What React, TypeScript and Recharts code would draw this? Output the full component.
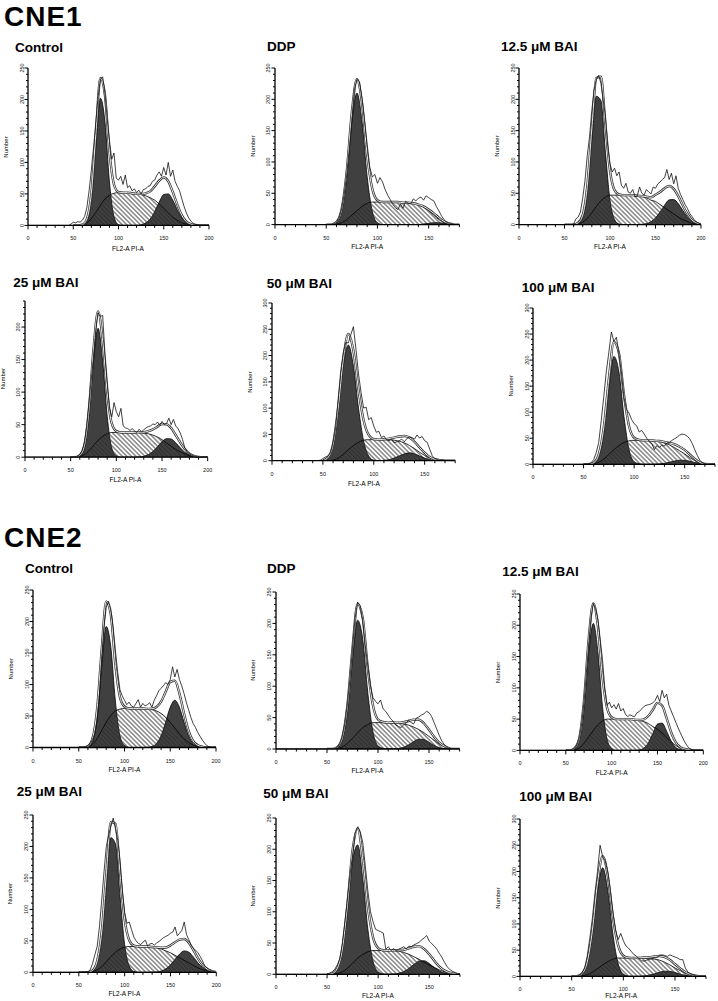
import React from 'react';
import { ComposedChart, Area, Line, XAxis, YAxis } from 'recharts';

// x positions of the model components (step 5) and of the raw histogram (step 2.5, plus the 0 anchor)
const COMP_X = [50, 55, 60, 65, 70, 75, 80, 85, 90, 95, 100, 105, 110, 115, 120, 125, 130, 135, 140, 145, 150, 155, 160, 165, 170, 175, 180, 185, 190, 195, 200];
const RAW_X = [
  0, 45, 47.5, 50, 52.5, 55, 57.5,
  60, 62.5, 65, 67.5, 70, 72.5, 75, 77.5,
  80, 82.5, 85, 87.5, 90, 92.5, 95, 97.5,
  100, 102.5, 105, 107.5, 110, 112.5, 115, 117.5,
  120, 122.5, 125, 127.5, 130, 132.5, 135, 137.5,
  140, 142.5, 145, 147.5, 150, 152.5, 155, 157.5,
  160, 162.5, 165, 167.5, 170, 172.5, 175, 177.5,
  180, 182.5, 185, 187.5, 190, 192.5, 195, 197.5,
  200,
];

// ---- CNE1 ----
const cne1CtrlG1 = [0, 0, 0, 6, 40, 125, 202, 165, 69, 14, 1, 0, 0, 0, 0, 0, 0, 0, 0, 0, 0, 0, 0, 0, 0, 0, 0, 0, 0, 0, 0];
const cne1CtrlS = [0, 0, 1, 4, 11, 21, 32, 42, 48, 51, 52, 52, 52, 51, 50, 49, 47, 44, 40, 34, 27, 20, 13, 8, 4, 2, 1, 0, 0, 0, 0];
const cne1CtrlG2 = [0, 0, 0, 0, 0, 0, 0, 0, 0, 0, 0, 0, 0, 0, 0, 1, 4, 10, 22, 37, 49, 50, 40, 25, 12, 4, 1, 0, 0, 0, 0];
const cne1CtrlRaw = [
  0, 0, 2, 5, 4, 6, 5,
  8, 14, 28, 55, 88, 125, 165, 205,
  232, 236, 210, 170, 135, 105, 115, 75,
  72, 78, 65, 80, 60, 63, 55, 58,
  52, 56, 50, 57, 58, 62, 63, 70,
  72, 80, 85, 78, 92, 80, 100, 78,
  88, 70, 62, 55, 42, 30, 20, 12,
  7, 3, 2, 1, 0, 0, 0, 0,
  0,
];

const cne1DdpG1 = [0, 0, 3, 21, 76, 164, 210, 164, 76, 21, 3, 0, 0, 0, 0, 0, 0, 0, 0, 0, 0, 0, 0, 0, 0, 0, 0, 0, 0, 0, 0];
const cne1DdpS = [0, 0, 1, 3, 8, 15, 22, 29, 34, 36, 36, 36, 36, 36, 36, 35, 35, 34, 32, 28, 22, 15, 8, 3, 1, 0, 0, 0, 0, 0, 0];
const cne1DdpG2 = [0, 0, 0, 0, 0, 0, 0, 0, 0, 0, 0, 0, 0, 0, 0, 0, 0, 0, 0, 1, 2, 3, 3, 2, 1, 0, 0, 0, 0, 0, 0];
const cne1DdpRaw = [
  0, 0, 0, 0, 0, 0, 1,
  3, 10, 25, 48, 80, 120, 165, 215,
  232, 228, 200, 165, 128, 92, 76, 80,
  66, 75, 68, 56, 47, 40, 32, 27,
  24, 33, 26, 37, 34, 33, 41, 38,
  42, 44, 39, 46, 43, 40, 38, 29,
  22, 14, 8, 4, 2, 1, 0, 0,
  0, 0, 0, 0, 0, 0, 0, 0,
  0,
];

const cne1B12G1 = [0, 0, 0, 2, 11, 51, 134, 205, 198, 115, 39, 8, 1, 0, 0, 0, 0, 0, 0, 0, 0, 0, 0, 0, 0, 0, 0, 0, 0, 0, 0];
const cne1B12S = [0, 0, 0, 1, 4, 10, 19, 29, 38, 44, 47, 47, 47, 47, 47, 47, 46, 45, 43, 39, 37, 32, 27, 22, 17, 12, 8, 5, 2, 1, 0];
const cne1B12G2 = [0, 0, 0, 0, 0, 0, 0, 0, 0, 0, 0, 0, 0, 0, 0, 0, 0, 0.5, 1.6, 4.6, 10.7, 20, 31, 39.5, 40, 33.5, 22.6, 12.4, 5.5, 2, 0.6];
const cne1B12Raw = [
  0, 0, 0, 0, 0, 0, 0,
  1, 9, 12, 20, 42, 70, 110, 140,
  182, 215, 232, 238, 226, 200, 172, 125,
  97, 84, 90, 78, 84, 63, 58, 66,
  52, 50, 56, 45, 46, 60, 50, 47,
  56, 52, 49, 60, 58, 65, 68, 72,
  75, 88, 72, 82, 65, 78, 58, 48,
  40, 32, 26, 18, 13, 8, 4, 2,
  1,
];

const cne1B25G1 = [0, 0, 2, 14, 63, 148, 198, 148, 63, 14, 2, 0, 0, 0, 0, 0, 0, 0, 0, 0, 0, 0, 0, 0, 0, 0, 0, 0, 0, 0, 0];
const cne1B25S = [0, 0, 1, 4, 10, 18, 26, 32, 36, 38, 38, 38, 38, 38, 38, 38, 37, 36, 34, 31, 27, 22, 17, 12, 8, 5, 2, 1, 0, 0, 0];
const cne1B25G2 = [0, 0, 0, 0, 0, 0, 0, 0, 0, 0, 0, 0, 0, 0, 0, 0.4, 1.4, 4, 8.8, 16, 24, 28.5, 28, 22, 14.5, 7.5, 3.3, 1.1, 0.3, 0, 0];
const cne1B25Raw = [
  0, 0, 0, 0, 0, 0, 1,
  4, 10, 22, 46, 82, 120, 153, 195,
  222, 216, 218, 160, 118, 75, 62, 84,
  70, 62, 75, 48, 45, 44, 41, 44,
  40, 38, 43, 39, 42, 45, 47, 48,
  51, 50, 54, 49, 55, 50, 52, 60,
  50, 58, 48, 44, 37, 27, 14, 9,
  5, 3, 2, 1, 0, 0, 0, 0,
  0,
];

const cne1B50G1 = [0, 6, 30, 95, 180, 220, 180, 100, 38, 9, 1, 0, 0, 0, 0, 0, 0, 0, 0, 0, 0, 0, 0, 0, 0, 0, 0, 0, 0, 0, 0];
const cne1B50S = [0, 0, 1, 5, 12, 21, 29, 35, 39, 40, 40, 40, 40, 40, 39, 37, 34, 29, 23, 16, 10, 5, 2, 1, 0, 0, 0, 0, 0, 0, 0];
const cne1B50G2 = [0, 0, 0, 0, 0, 0, 0, 0, 0, 0, 0, 0.1, 0.7, 2, 5, 9, 13, 15, 13, 9, 5, 2, 0.7, 0.1, 0, 0, 0, 0, 0, 0, 0];
const cne1B50Raw = [
  0, 0, 1, 4, 7, 9, 15,
  35, 62, 116, 170, 205, 225, 224, 240,
  255, 212, 165, 130, 100, 102, 78, 82,
  66, 54, 56, 44, 47, 40, 38, 41,
  34, 36, 38, 41, 36, 42, 45, 44,
  41, 49, 43, 46, 38, 35, 22, 9,
  4, 2, 1, 0, 0, 0, 0, 0,
  0, 0, 0, 0, 0, 0, 0, 0,
  0,
];

const cne1B100G1 = [0, 0, 2, 15, 61, 145, 207, 177, 91, 28, 5, 1, 0, 0, 0, 0, 0, 0, 0, 0, 0, 0, 0, 0, 0, 0, 0, 0, 0, 0, 0];
const cne1B100S = [0, 0, 1, 4, 10, 19, 28, 36, 42, 45, 46, 46, 46, 46, 45, 44, 41, 37, 32, 26, 20, 13, 7, 2, 0, 0, 0, 0, 0, 0, 0];
const cne1B100G2 = [0, 0, 0, 0, 0, 0, 0, 0, 0, 0, 0, 0, 0, 0, 0.2, 0.7, 1.9, 3.9, 6.3, 7.8, 7.6, 5.8, 3.4, 1.6, 0.6, 0.2, 0, 0, 0, 0, 0];
const cne1B100Raw = [
  0, 0, 0, 0, 0, 1, 3,
  9, 22, 42, 84, 130, 178, 215, 254,
  236, 244, 212, 175, 128, 105, 98, 86,
  78, 74, 62, 65, 58, 50, 44, 40,
  28, 36, 32, 37, 35, 41, 42, 46,
  49, 52, 56, 58, 57, 54, 49, 40,
  28, 17, 8, 3, 1, 0, 0, 0,
  0, 0, 0, 0, 0, 0, 0, 0,
  0,
];

// ---- CNE2 ----
const cne2CtrlG1 = [0, 0, 1, 9, 46, 127, 192, 160, 74, 19, 3, 0, 0, 0, 0, 0, 0, 0, 0, 0, 0, 0, 0, 0, 0, 0, 0, 0, 0, 0, 0];
const cne2CtrlS = [0, 0, 1, 5, 14, 27, 40, 51, 58, 61, 62, 62, 62, 62, 62, 61, 60, 58, 54, 48, 40, 31, 22, 14, 8, 4, 2, 1, 0, 0, 0];
const cne2CtrlG2 = [0, 0, 0, 0, 0, 0, 0, 0, 0, 0, 0, 0, 0, 0, 0, 0.3, 1.6, 6.4, 18.7, 40.5, 64, 75, 64, 40.5, 18.7, 6.4, 1.6, 0.3, 0, 0, 0];
const cne2CtrlRaw = [
  0, 0, 0, 0, 0, 0, 1,
  3, 6, 12, 22, 42, 80, 140, 190,
  222, 232, 220, 192, 155, 120, 92, 82,
  75, 68, 72, 66, 64, 70, 76, 64,
  70, 66, 68, 71, 64, 75, 82, 90,
  94, 98, 103, 100, 108, 128, 112, 124,
  108, 98, 86, 72, 60, 48, 38, 32,
  24, 18, 12, 7, 3, 1, 0, 0,
  0,
];

const cne2DdpG1 = [0, 0, 2, 15, 60, 143, 205, 175, 90, 28, 5, 1, 0, 0, 0, 0, 0, 0, 0, 0, 0, 0, 0, 0, 0, 0, 0, 0, 0, 0, 0];
const cne2DdpS = [0, 0, 1, 3, 9, 17, 26, 34, 39, 42, 42, 42, 42, 42, 41, 40, 38, 35, 31, 26, 20, 14, 8, 4, 1, 0, 0, 0, 0, 0, 0];
const cne2DdpG2 = [0, 0, 0, 0, 0, 0, 0, 0, 0, 0, 0, 0, 0, 0.2, 0.8, 2.7, 6.6, 11.8, 15.6, 15, 10.8, 5.6, 2.2, 0.6, 0.1, 0, 0, 0, 0, 0, 0];
const cne2DdpRaw = [
  0, 0, 0, 0, 0, 0, 0,
  3, 8, 20, 40, 72, 112, 160, 208,
  234, 228, 205, 165, 132, 102, 82, 76,
  72, 78, 64, 60, 54, 48, 44, 38,
  36, 34, 38, 41, 46, 42, 40, 49,
  51, 54, 56, 60, 58, 52, 42, 32,
  22, 13, 7, 3, 1, 0, 0, 0,
  0, 0, 0, 0, 0, 0, 0, 0,
  0,
];

const cne2B12G1 = [0, 0, 3, 18, 70, 157, 203, 157, 70, 18, 3, 0, 0, 0, 0, 0, 0, 0, 0, 0, 0, 0, 0, 0, 0, 0, 0, 0, 0, 0, 0];
const cne2B12S = [0, 0, 1, 4, 12, 22, 32, 41, 47, 50, 50, 50, 50, 50, 50, 49, 48, 46, 43, 38, 34, 28, 21, 14, 8, 4, 2, 1, 0, 0, 0];
const cne2B12G2 = [0, 0, 0, 0, 0, 0, 0, 0, 0, 0, 0, 0, 0, 0, 0, 0.1, 0.7, 3.6, 12, 27, 42, 43.6, 30.6, 14.6, 4.7, 1, 0.2, 0, 0, 0, 0];
const cne2B12Raw = [
  0, 0, 0, 0, 0, 0, 1,
  4, 10, 22, 45, 80, 125, 170, 212,
  235, 226, 210, 178, 145, 100, 72, 77,
  68, 73, 66, 75, 63, 67, 58, 54,
  57, 55, 54, 60, 62, 66, 70, 72,
  73, 74, 76, 80, 88, 78, 96, 84,
  90, 72, 63, 54, 45, 36, 28, 20,
  13, 7, 3, 1, 0, 0, 0, 0,
  0,
];

const cne2B25G1 = [0, 0, 0, 2, 14, 56, 139, 214, 204, 120, 44, 10, 1.4, 0, 0, 0, 0, 0, 0, 0, 0, 0, 0, 0, 0, 0, 0, 0, 0, 0, 0];
const cne2B25S = [0, 0, 0, 1, 4, 9, 17, 25, 32, 37, 40, 41, 41, 41, 41, 41, 40, 39, 37, 34, 31, 27, 23, 19, 15, 11, 7, 4, 2, 1, 0];
const cne2B25G2 = [0, 0, 0, 0, 0, 0, 0, 0, 0, 0, 0, 0, 0, 0, 0, 0, 0.2, 0.6, 2.1, 5.5, 11.8, 20.6, 29, 34, 32, 24.4, 15, 7.6, 3.2, 1, 0.3];
const cne2B25Raw = [
  0, 0, 0, 0, 0, 0, 0,
  1, 4, 14, 28, 41, 72, 115, 160,
  200, 218, 232, 245, 228, 210, 178, 130,
  95, 78, 80, 68, 56, 50, 46, 44,
  48, 51, 42, 45, 46, 43, 47, 49,
  52, 55, 57, 59, 62, 64, 72, 58,
  62, 67, 80, 60, 52, 43, 38, 35,
  31, 25, 18, 10, 7, 4, 2, 1,
  0,
];

const cne2B50G1 = [0, 1.2, 8.5, 37, 102, 181, 207, 152, 71, 21, 4, 0.5, 0, 0, 0, 0, 0, 0, 0, 0, 0, 0, 0, 0, 0, 0, 0, 0, 0, 0, 0];
const cne2B50S = [0, 0, 1, 4, 10, 18, 26, 32, 36, 38, 38, 38, 38, 38, 37, 35, 32, 28, 24, 19, 15, 11, 7, 4, 2, 1, 0, 0, 0, 0, 0];
const cne2B50G2 = [0, 0, 0, 0, 0, 0, 0, 0, 0, 0, 0, 0, 0, 0.4, 1.6, 4.3, 9.4, 16, 21, 21.6, 17.2, 10.7, 5.2, 2, 0.6, 0.1, 0, 0, 0, 0, 0];
const cne2B50Raw = [
  0, 0, 0, 0, 2, 4, 8,
  15, 25, 50, 85, 122, 160, 190, 226,
  236, 228, 210, 172, 132, 100, 84, 72,
  70, 68, 66, 40, 44, 38, 41, 38,
  40, 42, 44, 41, 45, 44, 47, 49,
  51, 55, 58, 62, 53, 49, 45, 40,
  33, 27, 19, 12, 8, 5, 3, 1,
  0, 0, 0, 0, 0, 0, 0, 0,
  0,
];

const cne2B100G1 = [0, 0.5, 4.4, 24, 79, 163, 207, 163, 79, 24, 4.4, 0.5, 0, 0, 0, 0, 0, 0, 0, 0, 0, 0, 0, 0, 0, 0, 0, 0, 0, 0, 0];
const cne2B100S = [0, 0, 1, 3, 8, 15, 22, 28, 33, 35, 35, 35, 35, 35, 35, 34, 33, 31, 27, 22, 16, 11, 6, 3, 1, 0, 0, 0, 0, 0, 0];
const cne2B100G2 = [0, 0, 0, 0, 0, 0, 0, 0, 0, 0, 0, 0, 0, 0.3, 0.9, 2.4, 4.9, 7.8, 9.8, 9.6, 7.3, 4.3, 2, 0.7, 0.2, 0, 0, 0, 0, 0, 0];
const cne2B100Raw = [
  0, 0, 0, 0, 0, 0, 2,
  7, 16, 38, 72, 110, 158, 200, 250,
  228, 220, 198, 162, 120, 88, 70, 82,
  68, 58, 54, 48, 42, 39, 34, 30,
  29, 31, 32, 34, 35, 36, 40, 41,
  40, 38, 41, 39, 37, 35, 32, 32,
  16, 8, 5, 3, 1, 0, 0, 0,
  0, 0, 0, 0, 0, 0, 0, 0,
  0,
];

const FONT = '"Liberation Sans", Arial, Helvetica, sans-serif';
const ML = 30;
const MT = 6;
const MR = 8;
const MB = 30;

const range = (max: number) => {
  const out: number[] = [];
  for (let v = 0; v <= max; v += 10) out.push(v);
  return out;
};

// layout of each panel: pixel positions of the axes on the page
const PANELS = [
  { title: 'Control', g1: cne1CtrlG1, s: cne1CtrlS, g2: cne1CtrlG2, raw: cne1CtrlRaw, xMax: 200, yMax: 250, x0: 28.3, x1: 209.3, yTop: 68.3, y0: 225.7, tx: 15, ty: 51.5, lv: 110, ly: 25 },
  { title: 'DDP', g1: cne1DdpG1, s: cne1DdpS, g2: cne1DdpG2, raw: cne1DdpRaw, xMax: 180, yMax: 250, x0: 275, x1: 459.4, yTop: 67.7, y0: 224.3, tx: 267, ty: 50.5, lv: 90, ly: 25 },
  { title: '12.5 μM BAI', g1: cne1B12G1, s: cne1B12S, g2: cne1B12G2, raw: cne1B12Raw, xMax: 200, yMax: 250, x0: 519, x1: 701, yTop: 67.7, y0: 224.3, tx: 501, ty: 50.5, lv: 100, ly: 25 },
  { title: '25 μM BAI', g1: cne1B25G1, s: cne1B25S, g2: cne1B25G2, raw: cne1B25Raw, xMax: 200, yMax: 240, x0: 25, x1: 207.7, yTop: 300.5, y0: 456.7, tx: 13.3, ty: 286.5, lv: 110, ly: 25 },
  { title: '50 μM BAI', g1: cne1B50G1, s: cne1B50S, g2: cne1B50G2, raw: cne1B50Raw, xMax: 180, yMax: 300, x0: 272.3, x1: 455.5, yTop: 303.3, y0: 461, tx: 266.7, ty: 288, lv: 90, ly: 25 },
  { title: '100 μM BAI', g1: cne1B100G1, s: cne1B100S, g2: cne1B100G2, raw: cne1B100Raw, xMax: 180, yMax: 300, x0: 533.3, x1: 715.3, yTop: 307.7, y0: 464, tx: 521.7, ty: 291.5, lv: 0, ly: 25 },
  { title: 'Control', g1: cne2CtrlG1, s: cne2CtrlS, g2: cne2CtrlG2, raw: cne2CtrlRaw, xMax: 200, yMax: 250, x0: 33, x1: 216, yTop: 590, y0: 747.5, tx: 25, ty: 573, lv: 100, ly: 24 },
  { title: 'DDP', g1: cne2DdpG1, s: cne2DdpS, g2: cne2DdpG2, raw: cne2DdpRaw, xMax: 180, yMax: 250, x0: 275.7, x1: 459.3, yTop: 591.7, y0: 748.7, tx: 267, ty: 573, lv: 90, ly: 24 },
  { title: '12.5 μM BAI', g1: cne2B12G1, s: cne2B12S, g2: cne2B12G2, raw: cne2B12Raw, xMax: 200, yMax: 250, x0: 520, x1: 703.3, yTop: 594.3, y0: 750.7, tx: 502.3, ty: 576, lv: 100, ly: 24 },
  { title: '25 μM BAI', g1: cne2B25G1, s: cne2B25S, g2: cne2B25G2, raw: cne2B25Raw, xMax: 200, yMax: 250, x0: 32.7, x1: 216, yTop: 815, y0: 972.3, tx: 16.7, ty: 796, lv: 100, ly: 24 },
  { title: '50 μM BAI', g1: cne2B50G1, s: cne2B50S, g2: cne2B50G2, raw: cne2B50Raw, xMax: 180, yMax: 250, x0: 275.7, x1: 459.6, yTop: 817.7, y0: 974, tx: 263.3, ty: 798, lv: 100, ly: 24 },
  { title: '100 μM BAI', g1: cne2B100G1, s: cne2B100S, g2: cne2B100G2, raw: cne2B100Raw, xMax: 180, yMax: 300, x0: 520, x1: 706, yTop: 819.3, y0: 976.7, tx: 519.3, ty: 801, lv: 98, ly: 21.5 },
];

type Panel = (typeof PANELS)[number];

const XTick = (props: any) => {
  const { x, y, payload } = props;
  const v = payload.value;
  const major = v % 50 === 0;
  return (
    <g>
      <line x1={x} y1={y} x2={x} y2={y + (major ? 4 : 2.5)} stroke="#000" strokeWidth={1} />
      {major && (
        <text x={x} y={y + 15} textAnchor="middle" fontSize={5.5} fontFamily={FONT} fill="#111">
          {v}
        </text>
      )}
    </g>
  );
};

const YTick = (props: any) => {
  const { x, y, payload } = props;
  const v = payload.value;
  const major = v % 50 === 0;
  return (
    <g>
      <line x1={x - (major ? 3.5 : 2)} y1={y} x2={x} y2={y} stroke="#000" strokeWidth={1} />
      {major && (
        <text transform={`translate(${x - 4.5},${y}) rotate(-90)`} textAnchor="middle" fontSize={5.5} fontFamily={FONT} fill="#111">
          {v}
        </text>
      )}
    </g>
  );
};

function buildRows(p: Panel) {
  const rows: any[] = RAW_X.map((x, i) => ({ x, raw: p.raw[i] ?? 0 }));
  COMP_X.forEach((x, j) => {
    const row = rows.find(r => r.x === x);
    if (!row) return;
    row.g1 = p.g1[j];
    row.s = p.s[j];
    row.g2 = p.g2[j];
    row.fit = p.g1[j] + p.s[j] + p.g2[j];
  });
  return rows;
}

const Histogram: React.FC<{ p: Panel; idx: number }> = ({ p, idx }) => {
  const plotW = p.x1 - p.x0;
  const plotH = p.y0 - p.yTop;
  const rows = buildRows(p);
  const hatch = `hatch-${idx}`;
  return (
    <div style={{ position: 'absolute', left: p.x0 - ML, top: p.yTop - MT }}>
      <ComposedChart width={plotW + ML + MR} height={plotH + MT + MB} data={rows} margin={{ top: MT, right: MR, left: 0, bottom: 0 }}>
        <defs>
          <pattern id={hatch} patternUnits="userSpaceOnUse" width={3.2} height={3.2} patternTransform="rotate(-45)">
            <line x1={1.6} y1={0} x2={1.6} y2={3.2} stroke="#2a2a2a" strokeWidth={0.85} />
          </pattern>
        </defs>
        <XAxis
          type="number"
          dataKey="x"
          domain={[0, p.xMax]}
          ticks={range(p.xMax)}
          interval={0}
          allowDataOverflow
          height={MB}
          tickSize={0}
          tickMargin={0}
          tickLine={false}
          axisLine={{ stroke: '#000', strokeWidth: 1.3 }}
          tick={<XTick />}
        />
        <YAxis
          type="number"
          domain={[0, p.yMax]}
          ticks={range(p.yMax)}
          interval={0}
          allowDataOverflow
          width={ML}
          tickSize={0}
          tickMargin={0}
          tickLine={false}
          axisLine={{ stroke: '#000', strokeWidth: 1.3 }}
          tick={<YTick />}
        />
        <Area dataKey="g1" type="monotone" fill="#404040" fillOpacity={1} stroke="#000" strokeWidth={0.8} connectNulls dot={false} activeDot={false} isAnimationActive={false} />
        <Area dataKey="g2" type="monotone" fill="#404040" fillOpacity={1} stroke="#000" strokeWidth={0.8} connectNulls dot={false} activeDot={false} isAnimationActive={false} />
        <Area dataKey="s" type="monotone" fill={`url(#${hatch})`} fillOpacity={1} stroke="#000" strokeWidth={0.8} connectNulls dot={false} activeDot={false} isAnimationActive={false} />
        <Line dataKey="fit" type="monotone" stroke="#333" strokeWidth={2.4} connectNulls dot={false} activeDot={false} isAnimationActive={false} />
        <Line dataKey="fit" type="monotone" stroke="#fff" strokeWidth={0.9} connectNulls dot={false} activeDot={false} isAnimationActive={false} />
        <Line dataKey="raw" type="linear" stroke="#111" strokeWidth={0.8} dot={false} activeDot={false} isAnimationActive={false} />
      </ComposedChart>
    </div>
  );
};

const App: React.FC = () => {
  return (
    <div style={{ position: 'absolute', left: 0, top: 0, width: 718, height: 1001, overflow: 'hidden', background: '#fff' }}>
      {PANELS.map((p, i) => (
        <Histogram key={i} p={p} idx={i} />
      ))}
      <svg width={718} height={1001} style={{ position: 'absolute', left: 0, top: 0, pointerEvents: 'none' }}>
        <text x={4} y={26} fontSize={28} letterSpacing={1} fontWeight="bold" fontFamily={FONT} fill="#000">CNE1</text>
        <text x={4} y={547} fontSize={28} letterSpacing={1} fontWeight="bold" fontFamily={FONT} fill="#000">CNE2</text>
        {PANELS.map((p, i) => {
          const scale = (p.x1 - p.x0) / p.xMax;
          const midY = (p.yTop + p.y0) / 2;
          return (
            <g key={i} fontFamily={FONT} fill="#000">
              <text x={p.tx} y={p.ty} fontSize={13.5} fontWeight="bold">{p.title}</text>
              <text transform={`translate(${p.x0 - 20.5},${midY}) rotate(-90)`} textAnchor="middle" fontSize={6}>Number</text>
              {p.lv > 0 && (
                <text x={p.x0 + p.lv * scale} y={p.y0 + p.ly} textAnchor="middle" fontSize={6.5}>FL2-A PI-A</text>
              )}
            </g>
          );
        })}
      </svg>
    </div>
  );
};

export default App;
